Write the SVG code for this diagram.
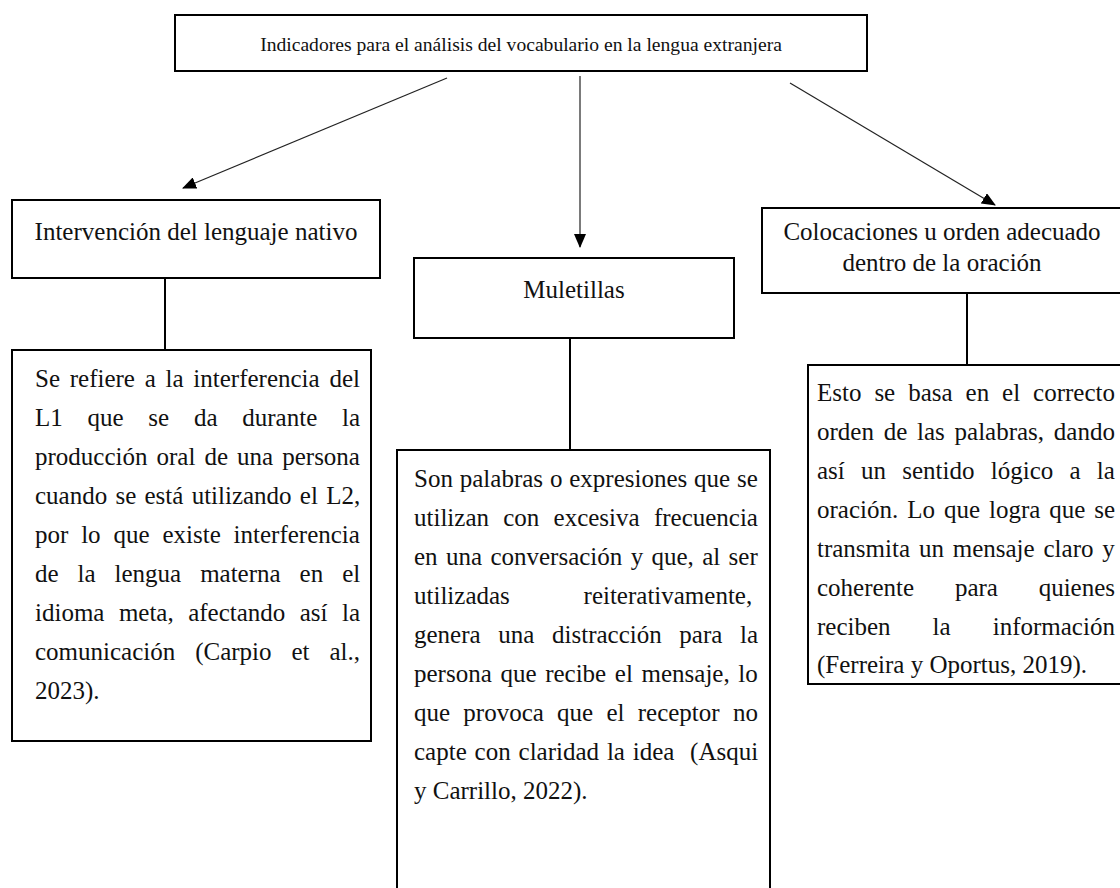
<svg xmlns="http://www.w3.org/2000/svg" width="1120" height="888" viewBox="0 0 1120 888">
  <style>
    .box { fill: #ffffff; stroke: #000000; stroke-width: 2; }
    .t { font-family: "Liberation Serif", "Times New Roman", serif; font-size: 25px; fill: #111111; }
    .title { font-family: "Liberation Serif", "Times New Roman", serif; font-size: 19.6px; fill: #111111; }
    .c { text-anchor: middle; }
    .arrow { stroke: #222222; stroke-width: 1.2; fill: none; marker-end: url(#ah); }
    .link { stroke: #000000; stroke-width: 2; fill: none; }
  </style>
  <defs>
    <marker id="ah" markerUnits="userSpaceOnUse" markerWidth="14" markerHeight="12" viewBox="0 0 14 12" refX="13" refY="6" orient="auto">
      <path d="M0,0 L14,6 L0,12 Z" fill="#000000"/>
    </marker>
  </defs>
  <rect width="1120" height="888" fill="#ffffff"/>

  <g id="connectors">
    <line class="arrow" x1="447" y1="78" x2="183" y2="188"/>
    <line class="arrow" x1="580" y1="76" x2="580" y2="247"/>
    <line class="arrow" x1="790" y1="83" x2="995" y2="205"/>
    <line class="link" x1="165" y1="278" x2="165" y2="350"/>
    <line class="link" x1="570" y1="338" x2="570" y2="450"/>
    <line class="link" x1="967" y1="293" x2="967" y2="365"/>
  </g>

  <g id="title">
    <rect class="box" x="175" y="15" width="692" height="56"/>
    <text class="title c" x="521" y="51">Indicadores para el análisis del vocabulario en la lengua extranjera</text>
  </g>

  <g id="intervencion">
    <rect class="box" x="12" y="200" width="368" height="78"/>
    <text class="t c" x="196" y="240">Intervención del lenguaje nativo</text>
  </g>

  <g id="muletillas">
    <rect class="box" x="414" y="258" width="320" height="80"/>
    <text class="t c" x="574" y="298">Muletillas</text>
  </g>

  <g id="colocaciones">
    <rect class="box" x="762" y="208" width="362" height="85"/>
    <text class="t c" x="942" y="240">Colocaciones u orden adecuado</text>
    <text class="t c" x="942" y="271">dentro de la oración</text>
  </g>

  <g id="intervencion-desc">
    <rect class="box" x="12" y="350" width="359" height="391"/>
    <text class="t" x="35" y="387" word-spacing="3.5">Se refiere a la interferencia del</text>
    <text class="t" x="35" y="426" word-spacing="18.5">L1 que se da durante la</text>
    <text class="t" x="35" y="465" word-spacing="2.8">producción oral de una persona</text>
    <text class="t" x="35" y="504" word-spacing="2">cuando se está utilizando el L2,</text>
    <text class="t" x="35" y="543" word-spacing="6.6">por lo que existe interferencia</text>
    <text class="t" x="35" y="582" word-spacing="12.7">de la lengua materna en el</text>
    <text class="t" x="35" y="621" word-spacing="8.2">idioma meta, afectando así la</text>
    <text class="t" x="35" y="660" word-spacing="13.7">comunicación (Carpio et al.,</text>
    <text class="t" x="35" y="699">2023).</text>
  </g>

  <g id="muletillas-desc">
    <rect class="box" x="397" y="450" width="373" height="445"/>
    <text class="t" x="414" y="487" word-spacing="0.6">Son palabras o expresiones que se</text>
    <text class="t" x="414" y="526" word-spacing="8">utilizan con excesiva frecuencia</text>
    <text class="t" x="414" y="565" word-spacing="2.1">en una conversación y que, al ser</text>
    <text class="t" x="414" y="604" word-spacing="67.5">utilizadas reiterativamente,</text>
    <text class="t" x="414" y="643" word-spacing="11.4">genera una distracción para la</text>
    <text class="t" x="414" y="682" word-spacing="2.4">persona que recibe el mensaje, lo</text>
    <text class="t" x="414" y="721" word-spacing="7">que provoca que el receptor no</text>
    <text class="t" x="414" y="760" word-spacing="1.6">capte con claridad la idea&#160; (Asqui</text>
    <text class="t" x="414" y="799">y Carrillo, 2022).</text>
  </g>

  <g id="colocaciones-desc">
    <rect class="box" x="808" y="365" width="316" height="319"/>
    <text class="t" x="817" y="401" word-spacing="6.7">Esto se basa en el correcto</text>
    <text class="t" x="817" y="440" word-spacing="3.5">orden de las palabras, dando</text>
    <text class="t" x="817" y="479" word-spacing="10">así un sentido lógico a la</text>
    <text class="t" x="817" y="518" word-spacing="2.7">oración. Lo que logra que se</text>
    <text class="t" x="817" y="557" word-spacing="2.6">transmita un mensaje claro y</text>
    <text class="t" x="817" y="596" word-spacing="34.5">coherente para quienes</text>
    <text class="t" x="817" y="635" word-spacing="35.8">reciben la información</text>
    <text class="t" x="817" y="673">(Ferreira y Oportus, 2019).</text>
  </g>
</svg>
